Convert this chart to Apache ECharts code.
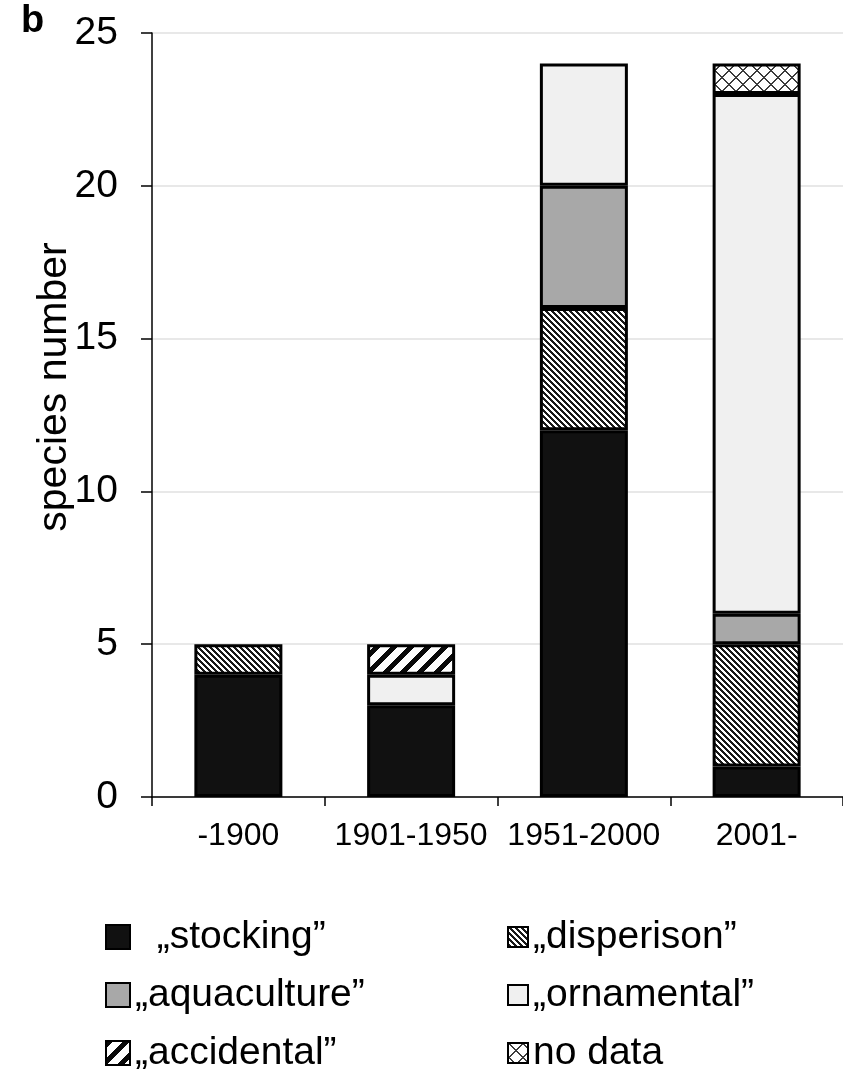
<!DOCTYPE html>
<html>
<head>
<meta charset="utf-8">
<script src="https://cdn.jsdelivr.net/npm/echarts@6/dist/echarts.min.js"></script>
<style>
html,body{margin:0;padding:0;background:#fff;}
#chart{width:843px;height:1080px;}
</style>
</head>
<body>
<div id="chart"></div>
<script>
const categories = ['-1900', '1901-1950', '1951-2000', '2001-'];
const seriesNames = ['„stocking”', '„disperison”', '„aquaculture”', '„ornamental”', '„accidental”', 'no data'];
const stocking    = [4, 3, 12, 1];
const disperison  = [1, 0, 4, 4];
const aquaculture = [0, 0, 4, 1];
const ornamental  = [0, 1, 4, 17];
const accidental  = [0, 1, 0, 0];
const noData      = [0, 0, 0, 1];
const yTicks = [0, 5, 10, 15, 20, 25];

const FONT = '"Liberation Sans", Arial, Helvetica, sans-serif';

function makePattern(kind) {
  let p, test, dark;
  if (kind === 'dense') { p = 6; dark = [25,25,25]; test = (x, y) => (((x - y) % p) + p) % p < 3; }
  else if (kind === 'wide') { p = 17; dark = [10,10,10]; test = (x, y) => ((x + y) % p) < 7; }
  else { p = 14; dark = [60,60,60]; test = (x, y) => ((x + y) % p) < 1.6 || ((((x - y) % p) + p) % p) < 1.6; }
  const c = document.createElement('canvas');
  c.width = p; c.height = p;
  const ctx = c.getContext('2d');
  const img = ctx.createImageData(p, p);
  for (let y = 0; y < p; y++) {
    for (let x = 0; x < p; x++) {
      const i = (y * p + x) * 4;
      const d = test(x, y);
      img.data[i] = d ? dark[0] : 255;
      img.data[i+1] = d ? dark[1] : 255;
      img.data[i+2] = d ? dark[2] : 255;
      img.data[i+3] = 255;
    }
  }
  ctx.putImageData(img, 0, 0);
  return { image: c, repeat: 'repeat' };
}

const fills = [
  '#111111',
  makePattern('dense'),
  '#a8a8a8',
  '#f0f0f0',
  makePattern('wide'),
  makePattern('cross')
];
const values = [stocking, disperison, aquaculture, ornamental, accidental, noData];

const series = seriesNames.map((n, k) => ({
  name: n,
  type: 'bar',
  stack: 'total',
  barWidth: 88,
  data: values[k].map(v => v === 0 ? null : v),
  itemStyle: { color: fills[k], borderColor: '#000', borderWidth: 3 },
  emphasis: { disabled: true }
}));

const chart = echarts.init(document.getElementById('chart'), null, { renderer: 'canvas' });
chart.setOption({
  animation: false,
  backgroundColor: '#fff',
  grid: { left: 152, top: 33, width: 694, height: 764, containLabel: false },
  xAxis: {
    type: 'category',
    data: categories,
    axisLine: { lineStyle: { color: '#000', width: 1.5 } },
    axisTick: { show: true, length: 9, lineStyle: { color: '#000', width: 1.5 } },
    axisLabel: { color: '#000', fontSize: 32, fontFamily: FONT, margin: 23, interval: 0 }
  },
  yAxis: {
    type: 'value',
    min: 0, max: 25, interval: 5,
    axisLine: { show: true, lineStyle: { color: '#000', width: 1.5 } },
    axisTick: { show: true, length: 11, lineStyle: { color: '#000', width: 1.5 } },
    axisLabel: { color: '#000', fontSize: 39, fontFamily: FONT, margin: 34,
      formatter: v => yTicks.includes(v) ? String(v) : '' },
    splitLine: { show: true, lineStyle: { color: '#e8e8e8', width: 2 } }
  },
  legend: [
    {
      orient: 'vertical', left: 100, top: 911,
      data: [seriesNames[0], seriesNames[2], seriesNames[4]],
      icon: 'rect', itemWidth: 24, itemHeight: 24, itemGap: 16,
      selectedMode: false,
      formatter: n => n === '„stocking”' ? '  ' + n : n,
      textStyle: { color: '#000', fontSize: 39, fontFamily: FONT, lineHeight: 42 }
    },
    {
      orient: 'vertical', left: 502, top: 911,
      data: [seriesNames[1], seriesNames[3], seriesNames[5]],
      icon: 'rect', itemWidth: 20, itemHeight: 20, itemGap: 16,
      selectedMode: false,
      textStyle: { color: '#000', fontSize: 39, fontFamily: FONT, lineHeight: 42 }
    }
  ],
  graphic: [
    { type: 'text', left: 21, top: 3, style: { text: 'b', font: 'bold 38px ' + FONT, fill: '#000' } },
    { type: 'text', x: 55, y: 387, rotation: Math.PI / 2,
      style: { text: 'species number', font: '41px ' + FONT, fill: '#000', align: 'center', verticalAlign: 'middle' } }
  ],
  series: series
});
</script>
</body>
</html>
